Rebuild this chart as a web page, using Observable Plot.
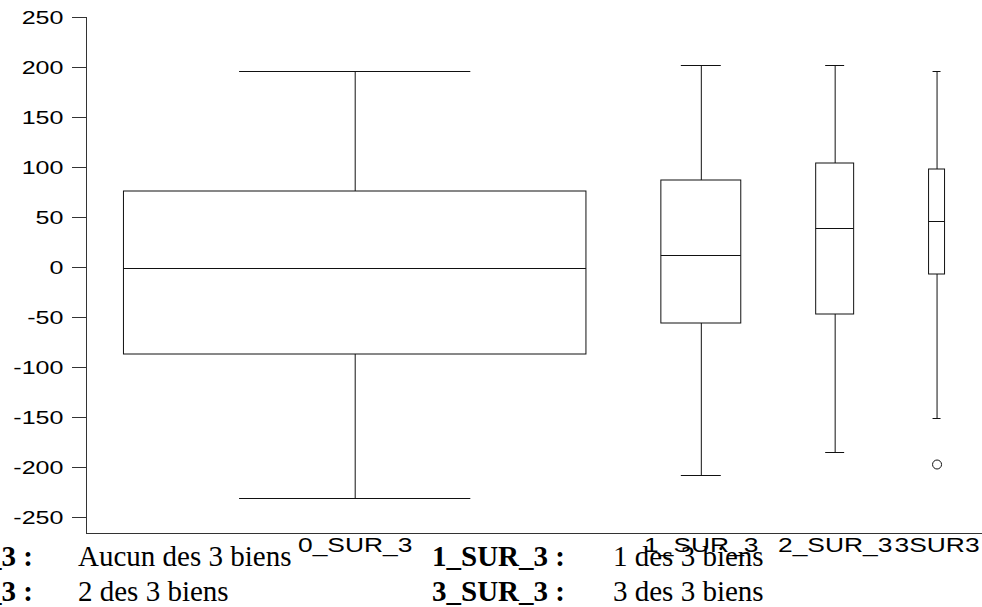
<!DOCTYPE html>
<html>
<head>
<meta charset="utf-8">
<script src="https://cdn.jsdelivr.net/npm/d3@7"></script>
<script src="https://cdn.jsdelivr.net/npm/@observablehq/plot@0.6"></script>
<style>
  html, body { margin: 0; padding: 0; background: #fff; overflow: hidden; }
  #wrap { position: relative; width: 982px; height: 607px; overflow: hidden; }
  #chart svg { display: block; }
  .leg { position: absolute; font-family: "Liberation Serif", "Times New Roman", serif; font-size: 29px; line-height: 35px; color: #000; white-space: nowrap; }
  .leg b { font-weight: bold; }
</style>
</head>
<body>
<div id="wrap">
  <div id="chart"></div>
</div>
<script>
// ---- data ----
const categories  = ["0_SUR_3", "1_SUR_3", "2_SUR_3", "3_SUR_3"];
const tickLabels  = ["0_SUR_3", "1_SUR_3", "2_SUR_3", "3SUR3"];
const groupSizes  = [463, 80, 38, 16];          // relative box widths (group size)
const whiskerLow  = [-231, -208, -185, -151];
const quartile1   = [-87, -56, -47, -7];
const medians     = [-1, 12, 39, 46];
const quartile3   = [76, 87, 104, 98];
const whiskerHigh = [196, 202, 202, 196];
const outlierCats = ["3_SUR_3"];
const outlierVals = [-197];
const yTicks      = [-250, -200, -150, -100, -50, 0, 50, 100, 150, 200, 250];
const legendKeys  = ["0_SUR_3", "1_SUR_3", "2_SUR_3", "3_SUR_3"];
const legendTexts = ["Aucun des 3 biens", "1 des 3 biens", "2 des 3 biens", "3 des 3 biens"];

// ---- layout of variable-width boxes ----
const gap = 75;
let acc = gap / 2;
const boxes = categories.map((c, i) => {
  const x1 = acc, x2 = acc + groupSizes[i];
  acc = x2 + gap;
  const xc = (x1 + x2) / 2, hw = groupSizes[i] / 4;
  return {c, label: tickLabels[i], x1, x2, xc, c1: xc - hw, c2: xc + hw,
          lo: whiskerLow[i], q1: quartile1[i], med: medians[i], q3: quartile3[i], hi: whiskerHigh[i]};
});
const total = acc - gap / 2;
const outliers = outlierCats.map((c, i) => ({x: boxes.find(b => b.c === c).xc, y: outlierVals[i]}));
const yMin = -266, yMax = 250;
const ink = "#111";

const svg = Plot.plot({
  width: 982, height: 560,
  marginLeft: 86, marginRight: 0, marginTop: 17, marginBottom: 27,
  style: {fontFamily: "'Liberation Sans', Arial, sans-serif", fontSize: "19px", color: "#000", background: "#fff"},
  x: {domain: [0, total], axis: null},
  y: {domain: [yMin, yMax], label: null},
  marks: [
    Plot.axisY({ticks: yTicks, tickFormat: d => String(d), tickSize: 14, tickPadding: 9, fontSize: 19, label: null, stroke: "#333"}),
    Plot.ruleX([0], {y1: yMin, y2: yMax, stroke: "#333"}),
    Plot.ruleY([yMin], {stroke: "#333"}),
    // whiskers
    Plot.ruleX(boxes, {x: "xc", y1: "q3", y2: "hi", stroke: ink}),
    Plot.ruleX(boxes, {x: "xc", y1: "lo", y2: "q1", stroke: ink}),
    Plot.ruleY(boxes, {y: "hi", x1: "c1", x2: "c2", stroke: ink}),
    Plot.ruleY(boxes, {y: "lo", x1: "c1", x2: "c2", stroke: ink}),
    // boxes
    Plot.rect(boxes, {x1: "x1", x2: "x2", y1: "q1", y2: "q3", fill: "#fff", stroke: ink, strokeWidth: 1}),
    Plot.ruleY(boxes, {y: "med", x1: "x1", x2: "x2", stroke: ink}),
    // outlier
    Plot.dot(outliers, {x: "x", y: "y", r: 4.5, stroke: ink, fill: "none", strokeWidth: 1}),
    // category labels
    Plot.text(boxes, {x: "xc", y: yMin, text: "label", lineAnchor: "top", dy: 4, fontSize: 20, fill: "#000"})
  ]
});

// widen the sans-serif labels horizontally, as in the reference
svg.querySelectorAll("text").forEach(t => {
  const tr = t.getAttribute("transform");
  if (tr) t.setAttribute("transform", tr + " scale(1.32,1)");
  else {
    const x = t.getAttribute("x") || 0, y = t.getAttribute("y") || 0;
    t.removeAttribute("x"); t.removeAttribute("y");
    t.setAttribute("transform", `translate(${x},${y}) scale(1.32,1)`);
  }
});
document.getElementById("chart").appendChild(svg);

// ---- legend (below the plot, overlapping as in the reference) ----
const wrap = document.getElementById("wrap");
const rows = [[0, 1], [2, 3]];
const colKeyRight = [33, null], colKeyLeft = [null, 432], colText = [78, 613];
rows.forEach((row, r) => {
  row.forEach((k, col) => {
    const top = 539 + r * 35;
    const key = document.createElement("div");
    key.className = "leg";
    key.style.top = top + "px";
    if (colKeyRight[col] !== null) key.style.right = (982 - colKeyRight[col]) + "px";
    else key.style.left = colKeyLeft[col] + "px";
    key.innerHTML = "<b>" + legendKeys[k] + " :</b>";
    wrap.appendChild(key);
    const txt = document.createElement("div");
    txt.className = "leg";
    txt.style.top = top + "px";
    txt.style.left = colText[col] + "px";
    txt.textContent = legendTexts[k];
    wrap.appendChild(txt);
  });
});
</script>
</body>
</html>
